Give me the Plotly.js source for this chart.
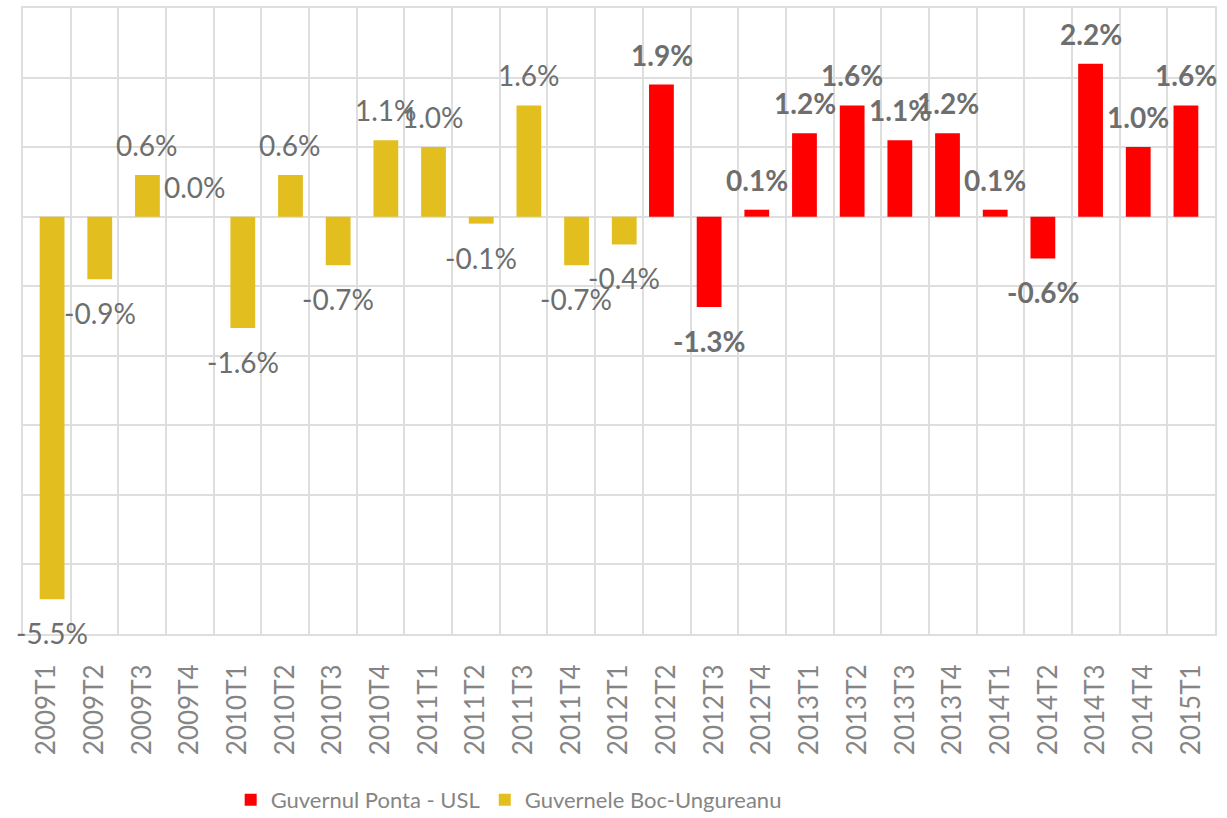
<!DOCTYPE html>
<html>
<head>
<meta charset="utf-8">
<script src="https://cdn.plot.ly/plotly-3.0.1.min.js"></script>
<style>
  html, body { margin: 0; padding: 0; background: #ffffff; }
  #chart { width: 1227px; height: 818px; }
</style>
</head>
<body>
<div id="chart"></div>
<script>
// ---- Data ----
const categories = [
  "2009T1","2009T2","2009T3","2009T4",
  "2010T1","2010T2","2010T3","2010T4",
  "2011T1","2011T2","2011T3","2011T4",
  "2012T1","2012T2","2012T3","2012T4",
  "2013T1","2013T2","2013T3","2013T4",
  "2014T1","2014T2","2014T3","2014T4",
  "2015T1"
];
const bocName = "Guvernele Boc-Ungureanu";
const pontaName = "Guvernul Ponta - USL";
const bocCategories = categories.slice(0, 13);
const bocValues = [-5.5, -0.9, 0.6, 0.0, -1.6, 0.6, -0.7, 1.1, 1.0, -0.1, 1.6, -0.7, -0.4];
const pontaCategories = categories.slice(13);
const pontaValues = [1.9, -1.3, 0.1, 1.2, 1.6, 1.1, 1.2, 0.1, -0.6, 2.2, 1.0, 1.6];

// ---- Styles ----
const RED = "#ff0000";
const GOLD = "#e2bf1f";
const FONT = "Lato, 'Open Sans', sans-serif";
const LABEL_GREY = "#6e6e6e";
const AXIS_GREY = "#858585";
const GRID = "#dedede";
const BAR_W = 0.52;
const SHIFT_PX = 5;

const traces = [
  {
    type: "bar", name: pontaName,
    x: pontaCategories, y: pontaValues,
    width: BAR_W, offset: -BAR_W / 2 - 0.11,
    marker: { color: RED, line: { width: 0 } },
    hoverinfo: "x+y"
  },
  {
    type: "bar", name: bocName,
    x: bocCategories, y: bocValues,
    width: BAR_W, offset: -BAR_W / 2 + 0.11,
    marker: { color: GOLD, line: { width: 0 } },
    hoverinfo: "x+y"
  }
];

function makeLabels(cats, vals, xshift, bold) {
  return cats.map((c, i) => ({
    x: c, y: vals[i], xref: "x", yref: "y",
    text: (bold ? "<b>" : "") + vals[i].toFixed(1) + "%" + (bold ? "</b>" : ""),
    showarrow: false,
    xanchor: "center", yanchor: "middle",
    xshift: xshift,
    yshift: vals[i] >= 0 ? 30 : -34,
    font: { family: FONT, size: 28, color: LABEL_GREY }
  }));
}

const annotations = []
  .concat(makeLabels(bocCategories, bocValues, SHIFT_PX, false))
  .concat(makeLabels(pontaCategories, pontaValues, -SHIFT_PX, true));

const layout = {
  width: 1227, height: 818,
  margin: { l: 23, r: 12, t: 8, b: 184 },
  paper_bgcolor: "#ffffff", plot_bgcolor: "#ffffff",
  barmode: "overlay",
  font: { family: FONT, color: AXIS_GREY },
  xaxis: {
    type: "category",
    categoryorder: "array", categoryarray: categories,
    range: [-0.5, categories.length - 0.5],
    autorange: false,
    tickson: "boundaries",
    showgrid: true, gridcolor: GRID, gridwidth: 2,
    showline: true, linecolor: GRID, linewidth: 2, mirror: true,
    ticks: "", tickangle: -90,
    ticklabelstandoff: 18,
    tickfont: { family: FONT, size: 26, color: AXIS_GREY },
    automargin: false,
    fixedrange: true
  },
  yaxis: {
    range: [-6, 3], autorange: false, dtick: 1, tick0: 0,
    showticklabels: false, ticks: "",
    showgrid: true, gridcolor: GRID, gridwidth: 2,
    zeroline: true, zerolinecolor: GRID, zerolinewidth: 2,
    showline: true, linecolor: GRID, linewidth: 2, mirror: true,
    automargin: false,
    fixedrange: true
  },
  showlegend: true,
  legend: {
    orientation: "h",
    xref: "container", yref: "container",
    x: 0.188, xanchor: "left",
    y: 1 - 800 / 818, yanchor: "middle",
    font: { family: FONT, size: 22, color: AXIS_GREY },
    itemwidth: 30,
    traceorder: "normal"
  },
  annotations: annotations
};

Plotly.newPlot("chart", traces, layout, { displayModeBar: false, staticPlot: true });
</script>
</body>
</html>
